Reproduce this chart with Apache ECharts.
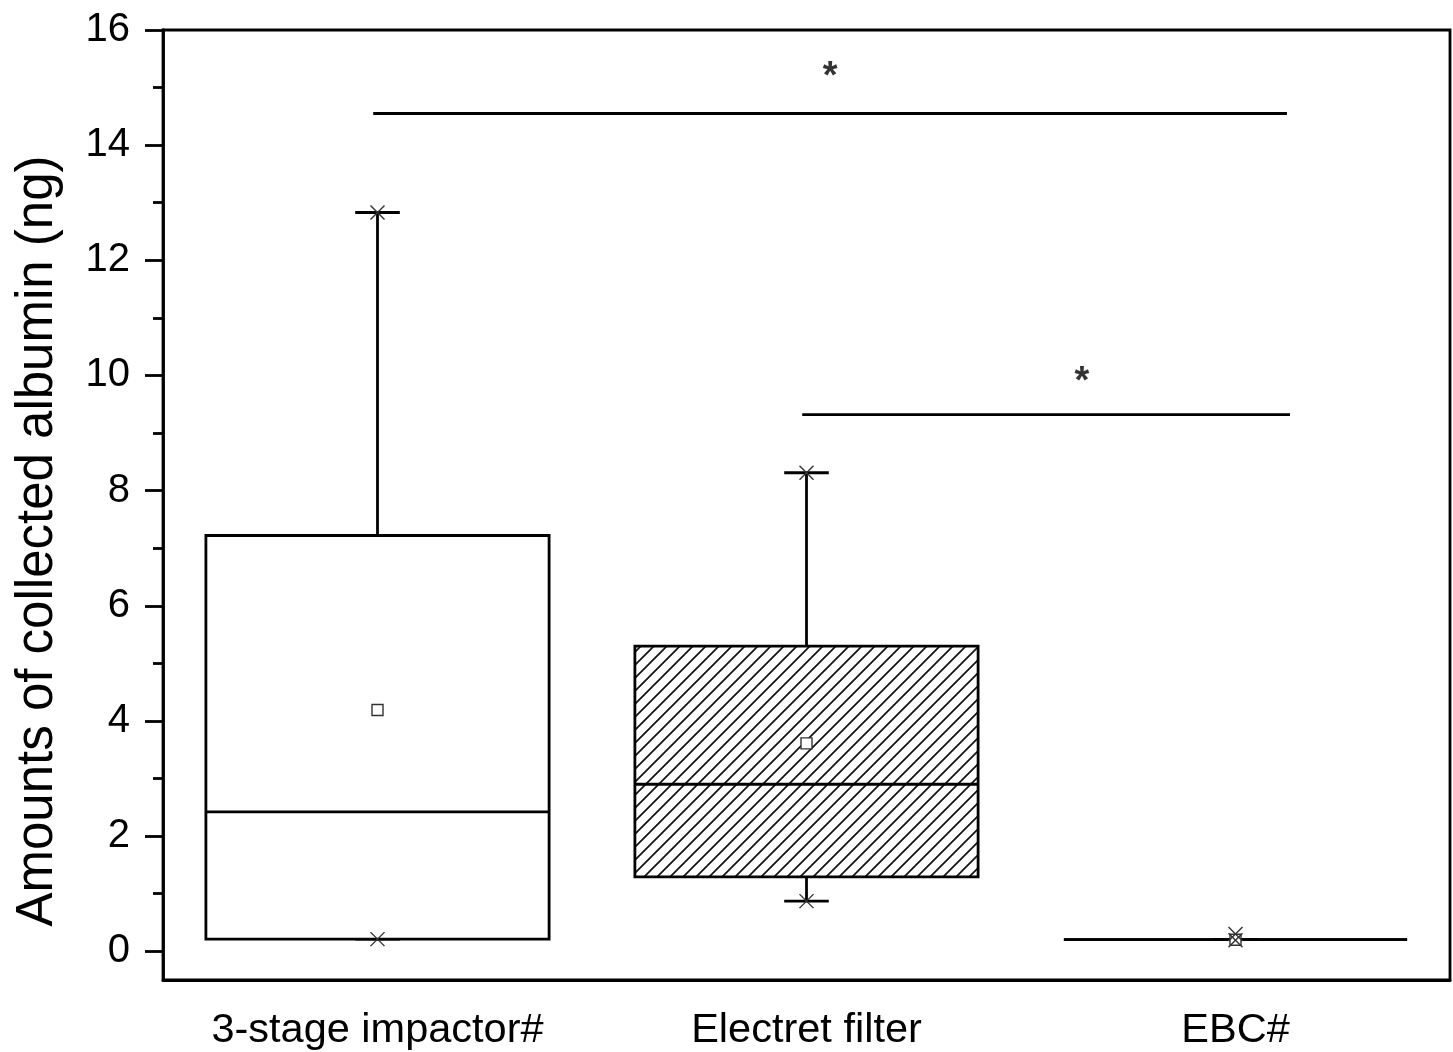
<!DOCTYPE html>
<html lang="en">
<head>
    <meta charset="UTF-8">
    <title>Collected albumin</title>
    <script type="text/javascript" src="https://cdn.jsdelivr.net/npm/echarts@6.0.0/dist/echarts.min.js"></script>
    <style>
        html, body { margin: 0; padding: 0; background: #fff; }
        #main { width: 1453px; height: 1052px; }
    </style>
</head>
<body>
<div id="main"></div>
<script type="text/javascript">
    // categories and box statistics
    var categories = ['3-stage impactor#', 'Electret filter', 'EBC#'];
    var whiskerLow = [0.21, 0.87, 0.20];
    var boxLow = [0.21, 1.29, 0.20];
    var medians = [2.42, 2.90, 0.20];
    var boxHigh = [7.22, 5.30, 0.20];
    var whiskerHigh = [12.83, 8.31, 0.20];
    var means = [4.19, 3.61, 0.20];
    var minMarks = [0.21, 0.87, 0.19];
    var maxMarks = [12.83, 8.31, 0.30];
    var hatched = [false, true, false];

    // y axis ticks
    var yMajorTicks = [0, 2, 4, 6, 8, 10, 12, 14, 16];
    var yMinorTicks = [1, 3, 5, 7, 9, 11, 13, 15];

    // significance brackets (x in category units, y in ng)
    var sigLine1 = [[-0.01, 14.55], [2.12, 14.55]];
    var sigLine2 = [[0.99, 9.32], [2.127, 9.32]];
    var sigStars = [[1.055, 15.17], [1.642, 9.87]];

    var FONT = "'Liberation Sans', Arial, sans-serif";
    var INK = '#000';
    var LW = 2.8;

    // diagonal hatch pattern
    function makeHatch() {
        var s = 13;
        var c = document.createElement('canvas');
        c.width = s; c.height = s;
        var ctx = c.getContext('2d');
        ctx.fillStyle = '#fff';
        ctx.fillRect(0, 0, s, s);
        ctx.strokeStyle = '#111';
        ctx.lineWidth = 1.7;
        ctx.beginPath();
        ctx.moveTo(-2, s + 2); ctx.lineTo(s + 2, -2);
        ctx.moveTo(-2, 2); ctx.lineTo(2, -2);
        ctx.moveTo(s - 2, s + 2); ctx.lineTo(s + 2, s - 2);
        ctx.stroke();
        return c;
    }
    var hatchImg = makeHatch();

    var boxData = [];
    for (var i = 0; i < categories.length; i++) {
        boxData.push([i, whiskerLow[i], boxLow[i], medians[i], boxHigh[i], whiskerHigh[i], means[i], minMarks[i], maxMarks[i], hatched[i] ? 1 : 0]);
    }

    function crossMark(x, y, r) {
        return {
            type: 'group',
            children: [
                {type: 'line', shape: {x1: x - r, y1: y - r, x2: x + r, y2: y + r}, style: {stroke: '#333', lineWidth: 1.4}},
                {type: 'line', shape: {x1: x - r, y1: y + r, x2: x + r, y2: y - r}, style: {stroke: '#333', lineWidth: 1.4}}
            ]
        };
    }

    function renderBox(params, api) {
        var idx = api.value(0);
        var cx = api.coord([idx, 0])[0];
        var band = api.size([1, 0])[0];
        var half = band * 0.4;
        var cap = band * 0.052;
        var y = function (v) { return api.coord([idx, v])[1]; };
        var wl = y(api.value(1)), q1 = y(api.value(2)), md = y(api.value(3));
        var q3 = y(api.value(4)), wh = y(api.value(5)), mn = y(api.value(6));
        var lo = y(api.value(7)), hi = y(api.value(8));
        var line = {stroke: INK, lineWidth: LW};
        var kids = [
            {type: 'line', shape: {x1: cx, y1: q3, x2: cx, y2: wh}, style: line},
            {type: 'line', shape: {x1: cx, y1: q1, x2: cx, y2: wl}, style: line},
            {type: 'line', shape: {x1: cx - cap, y1: wh, x2: cx + cap, y2: wh}, style: line},
            {type: 'line', shape: {x1: cx - cap, y1: wl, x2: cx + cap, y2: wl}, style: line},
            {
                type: 'rect',
                shape: {x: cx - half, y: q3, width: half * 2, height: q1 - q3},
                style: {
                    fill: api.value(9) ? {image: hatchImg, repeat: 'repeat'} : '#fff',
                    stroke: INK, lineWidth: LW
                }
            },
            {type: 'line', shape: {x1: cx - half, y1: md, x2: cx + half, y2: md}, style: line},
            {type: 'rect', shape: {x: cx - 5.5, y: mn - 5.5, width: 11, height: 11}, style: {fill: '#fff', stroke: '#333', lineWidth: 1.4}},
            crossMark(cx, lo, 7),
            crossMark(cx, hi, 7)
        ];
        return {type: 'group', children: kids};
    }

    var myChart = echarts.init(document.getElementById('main'));
    var option = {
        backgroundColor: '#fff',
        animation: false,
        grid: {
            left: 163, right: 3, top: 30, bottom: 72,
            show: true, borderColor: INK, borderWidth: LW,
            outerBoundsMode: 'none'
        },
        xAxis: [
            {
                type: 'category',
                data: categories,
                boundaryGap: true,
                axisLine: {onZero: false, lineStyle: {color: INK, width: LW}},
                axisTick: {alignWithLabel: true, length: 18, lineStyle: {color: INK, width: LW}},
                axisLabel: {color: INK, fontSize: 41.5, fontFamily: FONT, margin: 30, interval: 0},
                splitLine: {show: false}
            },
            {
                type: 'value', min: -0.5, max: 2.5, show: false,
                axisLine: {onZero: false}
            }
        ],
        yAxis: [
            {
                type: 'value',
                min: -0.5,
                max: 16,
                name: 'Amounts of collected albumin (ng)',
                nameLocation: 'middle',
                nameGap: 100,
                nameTextStyle: {color: INK, fontSize: 51, fontFamily: FONT, padding: [0, 72, 0, 0]},
                axisLine: {show: true, onZero: false, lineStyle: {color: INK, width: LW}},
                axisTick: {show: true, length: 18, customValues: yMajorTicks, lineStyle: {color: INK, width: LW}},
                axisLabel: {color: INK, fontSize: 40, fontFamily: FONT, margin: 33, customValues: yMajorTicks},
                splitLine: {show: false}
            },
            {
                type: 'value',
                min: -0.5,
                max: 16,
                position: 'left',
                axisLine: {show: false, onZero: false},
                axisTick: {show: true, length: 10, customValues: yMinorTicks, lineStyle: {color: INK, width: LW}},
                axisLabel: {show: false, customValues: yMinorTicks},
                splitLine: {show: false}
            }
        ],
        series: [
            {
                type: 'custom',
                xAxisIndex: 0,
                yAxisIndex: 0,
                renderItem: renderBox,
                data: boxData,
                encode: {x: 0, y: [1, 2, 3, 4, 5, 6, 7, 8]},
                z: 3
            },
            {
                type: 'line',
                xAxisIndex: 1,
                yAxisIndex: 0,
                data: sigLine1,
                symbol: 'none',
                lineStyle: {color: INK, width: LW},
                z: 4
            },
            {
                type: 'line',
                xAxisIndex: 1,
                yAxisIndex: 0,
                data: sigLine2,
                symbol: 'none',
                lineStyle: {color: INK, width: LW},
                z: 4
            },
            {
                type: 'scatter',
                xAxisIndex: 1,
                yAxisIndex: 0,
                data: sigStars,
                symbolSize: 0,
                label: {
                    show: true, position: 'inside', formatter: '*',
                    color: INK, fontSize: 38, fontWeight: 'bold', fontFamily: FONT
                },
                z: 4
            }
        ]
    };
    myChart.setOption(option);
</script>
</body>
</html>
